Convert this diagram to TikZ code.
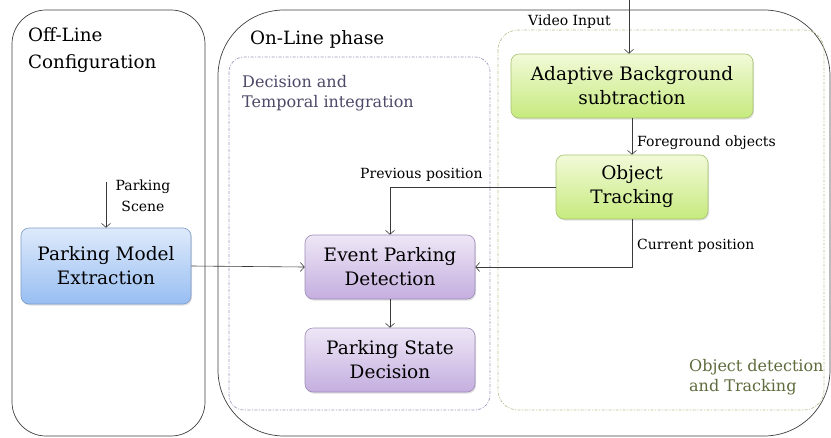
\documentclass[tikz,border=0pt]{standalone}
\usepackage{fontspec}
\setmainfont{DejaVu Serif}
\usetikzlibrary{arrows.meta,shadows}
\definecolor{blueTop}{HTML}{DEEAFB}
\definecolor{blueBot}{HTML}{98BEF2}
\definecolor{blueBorder}{HTML}{7E9CC8}
\definecolor{purTop}{HTML}{EEE7F6}
\definecolor{purBot}{HTML}{C4AEDF}
\definecolor{purBorder}{HTML}{9E8BB8}
\definecolor{grnTop}{HTML}{F2FAD8}
\definecolor{grnBot}{HTML}{C6EA7E}
\definecolor{grnBorder}{HTML}{A7C270}
\definecolor{decDash}{HTML}{9C98BE}
\definecolor{objDash}{HTML}{BCC293}
\definecolor{decText}{HTML}{4F4868}
\definecolor{objText}{HTML}{5E6B3C}
\definecolor{lineCol}{HTML}{3A3A3A}
\begin{document}
\begin{tikzpicture}[x=1pt,y=-1pt,
  procbox/.style={draw, line width=0.6pt, rounded corners=8pt, align=center,
    font=\fontsize{18.5}{24}\selectfont, inner sep=0pt,
    drop shadow={opacity=0.25, shadow xshift=1pt, shadow yshift=-1.5pt}},
  bluebox/.style={procbox, draw=blueBorder, top color=blueTop, bottom color=blueBot},
  purbox/.style={procbox, draw=purBorder, top color=purTop, bottom color=purBot},
  grnbox/.style={procbox, draw=grnBorder, top color=grnTop, bottom color=grnBot},
  phase/.style={draw=black!75, line width=0.7pt},
  groupdec/.style={draw=decDash, line width=0.7pt, dash pattern=on 3pt off 1.5pt on 1pt off 1.5pt},
  groupobj/.style={draw=objDash, line width=0.7pt, dash pattern=on 3pt off 1.5pt on 1pt off 1.5pt},
  arr/.style={draw=lineCol, line width=0.6pt, -{Straight Barb[length=4pt,width=9pt]}},
  small/.style={font=\fontsize{14}{21}\selectfont, inner sep=0pt, align=left},
  title/.style={font=\fontsize{18.3}{27}\selectfont, inner sep=0pt, align=left},
  grouptitle/.style={font=\fontsize{16}{20.5}\selectfont, inner sep=0pt, align=left}]
\useasboundingbox (0,0) rectangle (831,437);
\fill[white] (0,0) rectangle (831,437);

% phase frames
\draw[phase, rounded corners=34pt] (12,10) rectangle (205,436);
\draw[phase, rounded corners=66pt] (218,10) rectangle (830,436);

% group frames
\draw[groupdec, rounded corners=15pt] (229,57) rectangle (490,410);
\draw[groupobj, rounded corners=20pt] (498,30) rectangle (824,410);

% titles
\node[title, anchor=north west] (toff) at (28,27) {Off-Line\\Configuration};
\node[title, anchor=north west] (ton) at (250,30) {On-Line phase};
\node[grouptitle, anchor=north west, text=decText] (tdec) at (242,75) {Decision and\\Temporal integration};
\node[grouptitle, anchor=north west, text=objText] (tobj) at (689,359) {Object detection\\and Tracking};

% process boxes
\node[bluebox, minimum width=170pt, minimum height=76pt] (PME) at (106,266) {Parking Model\\Extraction};
\node[purbox, minimum width=170pt, minimum height=64pt] (EPD) at (390,267) {Event Parking\\Detection};
\node[purbox, minimum width=170pt, minimum height=64pt] (PSD) at (390,360) {Parking State\\Decision};
\node[grnbox, minimum width=242pt, minimum height=64pt] (ABS) at (632,86) {Adaptive Background\\subtraction};
\node[grnbox, minimum width=152pt, minimum height=64pt] (OT) at (632,187) {Object\\Tracking};

% connectors
\coordinate (vin) at (629,0);
\coordinate (ps) at (106,182);
\draw[arr] (vin) -- (vin |- ABS.north);
\draw[arr] (ABS.south) -- (OT.north);
\draw[arr] (OT.west) -| (EPD.north);
\draw[arr] (OT.south) |- (EPD.east);
\draw[arr] (PME.east) -- (EPD.west);
\draw[arr] (ps) -- (PME.north);
\draw[arr] (EPD.south) -- (PSD.north);

% connector labels
\node[small, anchor=base west] (lvin) at (528,25) {Video Input};
\node[small, anchor=base west] (lfg) at (637,146) {Foreground objects};
\node[small, anchor=base west] (lprev) at (360,178) {Previous position};
\node[small, anchor=base west] (lcur) at (637,249) {Current position};
\node[small, align=center, anchor=north] (lps) at (143,180) {Parking\\Scene};
\end{tikzpicture}
\end{document}
